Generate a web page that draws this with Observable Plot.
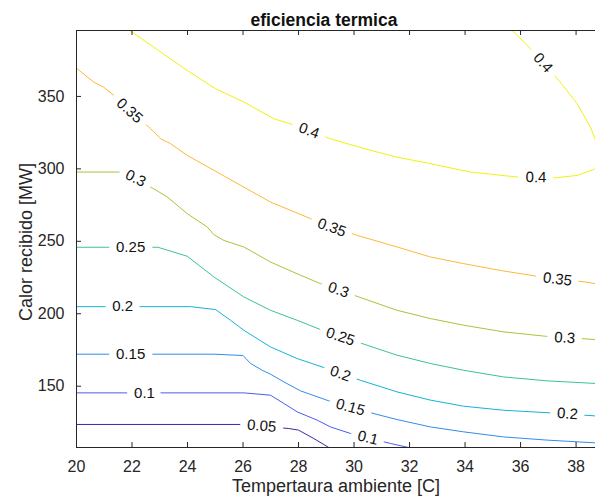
<!DOCTYPE html>
<html><head><meta charset="utf-8">
<script src="https://cdn.jsdelivr.net/npm/d3@7"></script>
<script src="https://cdn.jsdelivr.net/npm/@observablehq/plot@0.6"></script>
<style>body{margin:0;background:#fff}</style>
</head><body><div id="chart"></div>
<script>
// contour levels and their colours
const levels = [0.05, 0.1, 0.15, 0.2, 0.25, 0.3, 0.35, 0.4];
const levelColors = ["#3e26a8", "#4a5cf0", "#2f8ee8", "#12b5d6", "#3cc38c", "#adc23a", "#fdb83c", "#f2f20e"];

const c005 = [[20,123.6],[25.9,123.6],[27.65,120.8],[28.0,119.7],[28.55,113.9],[29.09,107.7]];
const c010 = [[20,145.4],[26.03,145.4],[26.99,143.8],[27.47,138.1],[27.95,132.3],[28.67,126.6],[29.15,121.9],[29.87,117.4],[31.31,110.5],[31.96,107.7]];
const c015 = [[20,172.1],[24.95,172.1],[26.0,171.2],[26.27,165.7],[26.69,161.0],[26.99,158.3],[27.47,153.0],[28.07,146.8],[29.09,139.9],[30.83,130.5],[31.55,127.0],[32.75,121.9],[33.95,118.5],[35.39,115.0],[36.96,112.8],[38.7,110.9]];
const c020 = [[20,204.9],[24.11,204.9],[25.01,202.9],[25.55,195.5],[26.03,188.6],[26.99,177.1],[27.95,169.1],[28.85,163.3],[30.23,154.1],[31.55,146.1],[32.75,140.4],[33.95,136.2],[35.39,133.4],[37.08,131.6],[38.7,129.5]];
const c025 = [[20,245.9],[22.93,245.9],[23.99,239.7],[24.95,225.4],[26.03,211.6],[26.99,202.4],[27.95,195.5],[28.79,189.1],[30.47,178.3],[31.55,171.4],[32.75,165.7],[33.95,161.0],[35.39,156.4],[36.96,153.7],[38.7,151.9]];
const c030 = [[20,297.8],[21.59,297.8],[22.78,286.3],[23.27,280.6],[23.99,269.1],[24.71,259.9],[24.95,254.6],[25.31,250.6],[26.03,246.1],[26.99,235.7],[28.07,226.6],[28.79,220.8],[30.17,211.6],[31.55,202.4],[32.75,196.7],[33.95,192.1],[35.39,187.5],[36.89,184.5],[38.7,182.2]];
const c035 = [[20,369.5],[20.62,359.9],[20.98,356.4],[21.34,350.7],[22.67,327.7],[23.03,320.8],[23.39,317.4],[23.99,309.3],[24.95,299.0],[26.03,287.4],[26.99,277.1],[28.43,265.7],[30.11,254.1],[31.55,246.1],[32.75,239.2],[33.95,234.6],[35.39,229.5],[36.53,226.1],[38.34,221.9],[38.7,220.8]];
const c040a = [[21.92,395.5],[23.99,367.9],[25.01,355.3],[26.03,346.1],[27.11,334.6],[27.77,330.7],[29.15,320.8],[30.34,314.1],[31.55,308.1],[32.75,303.6],[34.19,297.8],[35.92,294.3],[37.32,293.9],[38.04,295.5],[38.7,300.1]];
const c040b = [[35.70,395.5],[36.36,382.9],[37.38,361.0],[38.04,345.0],[38.52,328.8],[38.7,319.6]];

// inline contour labels
const labelLevel = [0.05, 0.1, 0.1, 0.15, 0.15, 0.2, 0.2, 0.2, 0.25, 0.25, 0.3, 0.3, 0.3, 0.35, 0.35, 0.35, 0.4, 0.4, 0.4];
const labelX = [26.67, 22.45, 30.50, 21.95, 29.87, 21.66, 29.51, 37.69, 21.95, 29.51, 22.13, 29.44, 37.59, 21.91, 29.2, 37.33, 28.38, 36.56, 36.81];
const labelY = [122.6, 145.4, 114.3, 172.1, 135.5, 204.9, 158.6, 131.0, 245.9, 184.2, 293.5, 216.4, 183.4, 340.2, 259.5, 223.8, 326.3, 294.1, 373.2];

// axes
const xTicks = [20, 22, 24, 26, 28, 30, 32, 34, 36, 38];
const yTicks = [150, 200, 250, 300, 350];
const xDomain = [20, 38.7];
const yDomain = [107.7, 395.5];
const titleText = "eficiencia termica";
const xLabel = "Tempertaura ambiente [C]";
const yLabel = "Calor recibido [MW]";

const W = 595, H = 501, ML = 76, MR = 0, MT = 30, MB = 54;
const innerW = W - ML - MR, innerH = H - MT - MB;
const axisColor = "#262626";

const branches = [
  {level: 0.05, pts: c005}, {level: 0.1, pts: c010}, {level: 0.15, pts: c015},
  {level: 0.2, pts: c020}, {level: 0.25, pts: c025}, {level: 0.3, pts: c030},
  {level: 0.35, pts: c035}, {level: 0.4, pts: c040a}, {level: 0.4, pts: c040b}
];
const rows = branches.flatMap((b, i) => b.pts.map(([x, y]) => ({level: b.level, branch: i, x, y})));

const xs = Plot.scale({x: {domain: xDomain, range: [ML, W - MR]}});
const ys = Plot.scale({y: {domain: yDomain, range: [H - MB, MT]}});

function segDist(px, py, ax, ay, bx, by) {
  const dx = bx - ax, dy = by - ay;
  const L = dx * dx + dy * dy;
  let t = L ? ((px - ax) * dx + (py - ay) * dy) / L : 0;
  t = Math.max(0, Math.min(1, t));
  const qx = ax + t * dx, qy = ay + t * dy;
  return Math.hypot(px - qx, py - qy);
}

const labels = labelLevel.map((lv, i) => {
  const x = labelX[i], y = labelY[i];
  const px = xs.apply(x), py = ys.apply(y);
  let best = Infinity, ang = 0;
  for (const b of branches) {
    if (b.level !== lv) continue;
    for (let k = 0; k < b.pts.length - 1; k++) {
      const ax = xs.apply(b.pts[k][0]), ay = ys.apply(b.pts[k][1]);
      const bx = xs.apply(b.pts[k + 1][0]), by = ys.apply(b.pts[k + 1][1]);
      const d = segDist(px, py, ax, ay, bx, by);
      if (d < best) {
        best = d;
        ang = Math.atan2(by - ay, bx - ax) * 180 / Math.PI;
      }
    }
  }
  if (ang > 90) ang -= 180;
  if (ang < -90) ang += 180;
  return {x, y, angle: ang, text: String(lv)};
});

const chart = Plot.plot({
  width: W, height: H,
  marginLeft: ML, marginRight: MR, marginTop: MT, marginBottom: MB,
  style: {fontFamily: "'Liberation Sans', Arial, Helvetica, sans-serif", fontSize: "16px", background: "#fff", color: axisColor},
  x: {domain: xDomain},
  y: {domain: yDomain},
  color: {type: "ordinal", domain: levels, range: levelColors},
  marks: [
    Plot.line(rows, {x: "x", y: "y", z: "branch", stroke: "level", strokeWidth: 1}),
    Plot.text(labels, {x: "x", y: "y", text: "text", rotate: "angle", fontSize: 15, fill: "white", stroke: "white", strokeWidth: 15, strokeLinejoin: "round"}),
    Plot.ruleX([xDomain[0]], {stroke: axisColor, strokeWidth: 1}),
    Plot.ruleY(yDomain, {stroke: axisColor, strokeWidth: 1}),
    Plot.tickX(xTicks, {x: d => d, insetTop: innerH - 5, stroke: axisColor}),
    Plot.tickX(xTicks, {x: d => d, insetBottom: innerH - 5, stroke: axisColor}),
    Plot.tickY(yTicks, {y: d => d, insetRight: innerW - 5, stroke: axisColor}),
    Plot.text(labels, {x: "x", y: "y", text: "text", rotate: "angle", fontSize: 15, fill: "#111"}),
    Plot.axisX({ticks: xTicks, tickSize: 0, tickPadding: 13, label: null, fill: axisColor, fontSize: 16}),
    Plot.axisY({ticks: yTicks, tickSize: 0, tickPadding: 12, label: null, fill: axisColor, fontSize: 16}),
    Plot.text([xLabel], {frameAnchor: "bottom", dy: 44, text: d => d, fontSize: 18, fill: axisColor}),
    Plot.text([yLabel], {frameAnchor: "left", textAnchor: "middle", lineAnchor: "middle", dx: -50, dy: 3, rotate: -90, text: d => d, fontSize: 18, fill: axisColor}),
    Plot.text([titleText], {frameAnchor: "top", dy: -17, dx: -12, text: d => d, fontSize: 17.5, fontWeight: "bold", fill: "#111"})
  ]
});
document.getElementById("chart").append(chart);
</script>
</body></html>
